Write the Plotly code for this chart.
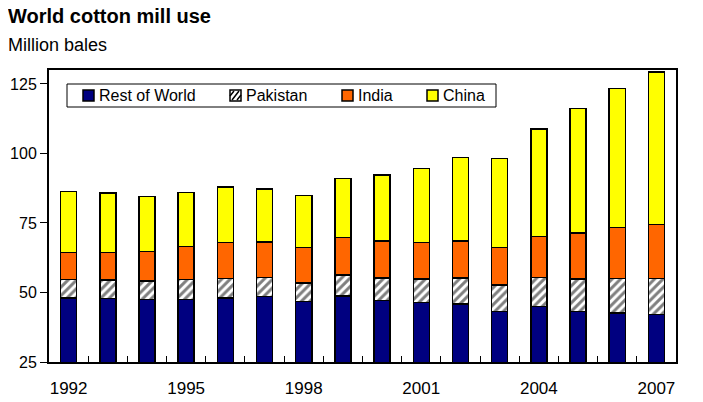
import plotly.graph_objects as go

# million bales
years = [str(y) for y in range(1992, 2008)]
rest_of_world = [48.0, 47.8, 47.4, 47.4, 48.0, 48.6, 46.8, 48.7, 47.1, 46.4, 45.9, 43.1, 45.0, 43.1, 42.6, 42.0]
pakistan = [6.6, 6.7, 6.7, 7.2, 7.0, 6.7, 6.6, 7.6, 8.1, 8.5, 9.3, 9.6, 10.4, 11.8, 12.5, 13.1]
india = [9.8, 9.8, 10.6, 12.0, 13.0, 12.9, 12.8, 13.5, 13.4, 13.1, 13.3, 13.5, 14.7, 16.4, 18.2, 19.3]
china = [22.0, 21.5, 19.9, 19.4, 20.0, 19.1, 18.6, 21.2, 23.7, 26.5, 30.0, 32.0, 38.7, 44.8, 50.0, 54.9]
labelled_years = ["1992", "1995", "1998", "2001", "2004", "2007"]

FONT = "Liberation Sans, Arial, sans-serif"
# the page body has an 8px margin, so the figure is drawn 8px smaller
# and all pixel positions below are page positions minus that offset
OFF = 8
W, H = 703 - OFF, 402 - OFF
L, R, T, B = 49 - OFF, 676 - OFF, 70 - OFF, 362 - OFF  # plot area in figure pixels
edge = dict(color="black", width=1.5)
hatch = dict(shape="/", fgcolor="black", bgcolor="white", size=6, solidity=0.5)


def px(x):
    # page x pixel -> paper coordinate
    return (x - OFF - L) / (R - L)


def py(y):
    # page y pixel -> paper coordinate
    return (B - (y - OFF)) / (B - T)


fig = go.Figure()
fig.add_trace(go.Bar(x=years, y=rest_of_world, name="Rest of World",
                     marker=dict(color="#000080", line=edge)))
fig.add_trace(go.Bar(x=years, y=pakistan, name="Pakistan",
                     marker=dict(color="white", line=edge, pattern=hatch)))
fig.add_trace(go.Bar(x=years, y=india, name="India",
                     marker=dict(color="#FF6600", line=edge)))
fig.add_trace(go.Bar(x=years, y=china, name="China",
                     marker=dict(color="#FFFF00", line=edge)))

# legend drawn by hand so the box and spacing match the original
shapes = [dict(type="rect", xref="paper", yref="paper", x0=px(67), x1=px(496),
               y0=py(107), y1=py(84), line=dict(color="black", width=1),
               fillcolor="white", layer="above")]
annotations = []
swatch_left = [83, 230, 342, 427]
for trace, x0 in zip(fig.data, swatch_left):
    shapes.append(dict(type="rect", xref="paper", yref="paper", x0=px(x0), x1=px(x0 + 11),
                       y0=py(101), y1=py(90), line=dict(color="black", width=1.5),
                       fillcolor=trace.marker.color, layer="above"))
    if trace.name == "Pakistan":
        shapes.append(dict(type="path", xref="paper", yref="paper", layer="above",
                           path=f"M {px(x0 + 2)} {py(100)} L {px(x0 + 9)} {py(91)} "
                                f"M {px(x0)} {py(96)} L {px(x0 + 4)} {py(91)} "
                                f"M {px(x0 + 7)} {py(100)} L {px(x0 + 11)} {py(95)}",
                           line=dict(color="black", width=1.5)))
    annotations.append(dict(text=trace.name, xref="paper", yref="paper", x=px(x0 + 14),
                            y=py(95.5), xanchor="left", yanchor="middle", showarrow=False,
                            font=dict(size=16)))

annotations.append(dict(text="Million bales", xref="paper", yref="paper",
                        x=px(6), y=py(44.5), xanchor="left", yanchor="middle",
                        showarrow=False, font=dict(size=18)))

fig.update_layout(
    width=W, height=H,
    margin=dict(l=L, r=W - R, t=T, b=H - B),
    paper_bgcolor="white", plot_bgcolor="white",
    barmode="stack", bargap=0.59,
    font=dict(family=FONT, size=16, color="black"),
    title=dict(text="<b>World cotton mill use</b>", x=0, xanchor="left",
               y=1, yanchor="top", font=dict(size=20), pad=dict(t=1, l=0)),
    showlegend=False,
    shapes=shapes,
    annotations=annotations,
)
fig.update_xaxes(
    type="category", tickson="boundaries", ticks="inside", ticklen=6, tickwidth=1,
    tickcolor="black", tickvals=years,
    ticktext=[y if y in labelled_years else "" for y in years], tickangle=0,
    tickfont=dict(size=17),
    showline=True, linecolor="black", linewidth=2, mirror=True,
    showgrid=False, ticklabelstandoff=10, automargin=False,
)
fig.update_yaxes(
    range=[25, 130], tickvals=[25, 50, 75, 100, 125], ticks="outside", ticklen=7,
    tickcolor="black", showline=True, linecolor="black", linewidth=2, mirror=True,
    showgrid=False, zeroline=False, automargin=False,
)

fig.write_html("out.html")
